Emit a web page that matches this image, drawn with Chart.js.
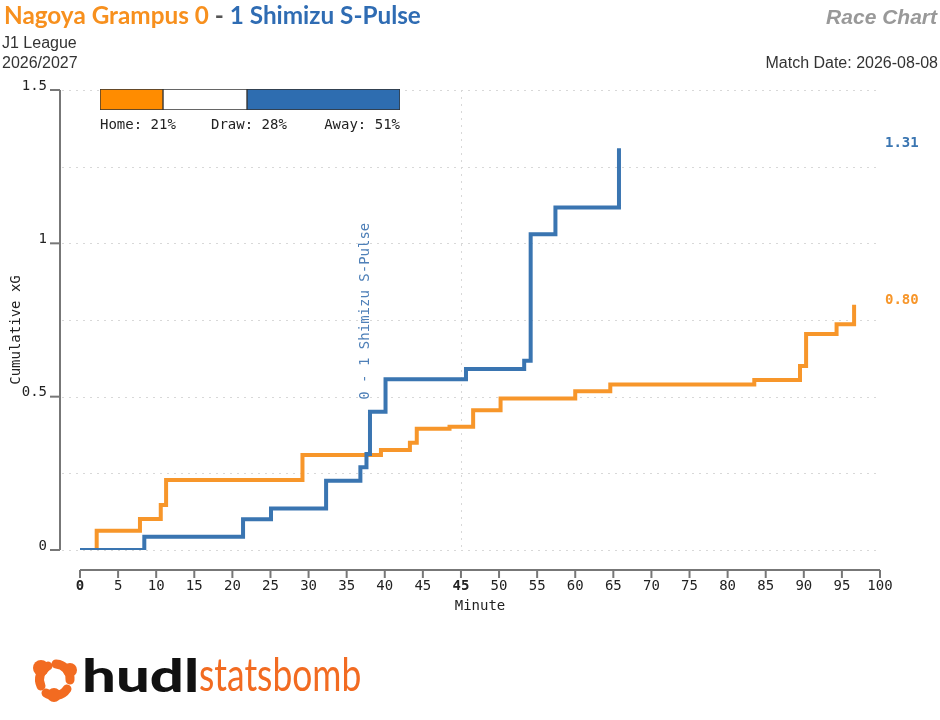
<!DOCTYPE html>
<html>
<head>
<meta charset="utf-8">
<script src="https://cdn.jsdelivr.net/npm/chart.js@4"></script>
<style>
  body { margin: 0; background: #fff; }
  #page { position: relative; width: 940px; height: 720px; overflow: hidden; }
  #race { position: absolute; left: 0; top: 0; }
  .txt { position: absolute; white-space: nowrap; }
  .title { left: 4px; top: 0px; font: bold 24.3px Lato, "Open Sans", sans-serif; color: #555; }
  .home { color: #F7901E; }
  .away { color: #2F6CB3; }
  .sub { font: 16px "Liberation Sans", Arial, sans-serif; color: #333; }
  .mono { font: 14px "DejaVu Sans Mono", monospace; color: #222; }
  #probWrap { position: absolute; left: 99px; top: 88px; width: 302px; height: 23px; }
</style>
</head>
<body>
<div id="page">
  <canvas id="race" width="940" height="720"></canvas>

  <div class="txt title"><span class="home">Nagoya Grampus 0</span> - <span class="away">1 Shimizu S-Pulse</span></div>
  <div class="txt sub" style="left:2px; top:34px;">J1 League</div>
  <div class="txt sub" style="left:2px; top:54px;">2026/2027</div>
  <div class="txt" style="right:3px; top:5px; font: italic bold 21px 'Liberation Sans', Arial, sans-serif; color:#999;">Race Chart</div>
  <div class="txt sub" style="right:2px; top:54px;">Match Date: 2026-08-08</div>

  <div id="probWrap"><canvas id="prob"></canvas></div>
  <div class="txt mono" id="probHome" style="left:100px; top:116px;"></div>
  <div class="txt mono" id="probDraw" style="left:211px; top:116px;"></div>
  <div class="txt mono" id="probAway" style="right:540px; top:116px;"></div>

  <svg class="txt" style="left:32px; top:656px;" width="46" height="46" viewBox="0 0 46 46">
    <g fill="none" stroke="#F26B21" stroke-width="9" stroke-linecap="round">
      <path d="M9 30 A15 15 0 0 1 16 10"/>
      <path d="M24 8 A15 15 0 0 1 38 24"/>
      <path d="M35 33 A15 15 0 0 1 14 37"/>
    </g>
    <g fill="#F26B21">
      <circle cx="9" cy="12" r="8"/>
      <circle cx="38" cy="14" r="7"/>
      <circle cx="22" cy="39" r="7"/>
    </g>
  </svg>
  <div class="txt" style="left:82px; top:647px; font: 900 46px Lato, sans-serif; color:#111; transform: scaleX(1.3); transform-origin: left top;">hudl</div>
  <div class="txt" style="left:199px; top:646px; font: 400 46px Lato, sans-serif; color:#F26B21; transform: scaleX(0.77); transform-origin: left top;">statsbomb</div>
</div>

<script>
// race chart data, x is elapsed position (first half 0-45, stoppage gap, second half from 50)
const homeMinutes = [0, 2.19, 7.87, 10.6, 11.3, 29.2, 39.5, 43.3, 44.2, 48.5, 51.6, 55.2, 65.0, 69.6, 88.5, 94.5, 95.3, 99.3, 101.6];
const homeXg      = [0, 0.063, 0.101, 0.147, 0.228, 0.31, 0.326, 0.35, 0.395, 0.402, 0.456, 0.494, 0.518, 0.54, 0.554, 0.60, 0.704, 0.736, 0.80];
const awayMinutes = [0, 8.44, 21.4, 25.07, 32.3, 36.8, 37.6, 38.06, 40.1, 50.66, 58.3, 59.15, 62.4, 70.74];
const awayXg      = [0, 0.043, 0.10, 0.135, 0.226, 0.27, 0.313, 0.451, 0.557, 0.59, 0.617, 1.03, 1.117, 1.31];

const xTickValues = [0, 5, 10, 15, 20, 25, 30, 35, 40, 45, 50, 55, 60, 65, 70, 75, 80, 85, 90, 95, 100, 105];
const xTickLabels = ['0', '5', '10', '15', '20', '25', '30', '35', '40', '45', '45', '50', '55', '60', '65', '70', '75', '80', '85', '90', '95', '100'];
const xTickBold = [0, 50];
const halfTimeMark = 50;

const yTickValues = [0, 0.5, 1, 1.5];
const yTickLabels = ['0', '0.5', '1', '1.5'];
const yGridValues = [0, 0.25, 0.5, 0.75, 1, 1.25, 1.5];

const goalMinutes = [38.06];
const goalLabels = ['0 - 1 Shimizu S-Pulse'];
const goalLabelY = [0.49];

const outcomeLabels = ['Home', 'Draw', 'Away'];
const outcomeProbs = [21, 28, 51];

const homeColor = '#F7962A';
const awayColor = '#3A75B1';
const monoFont = '14px "DejaVu Sans Mono", monospace';

function line(ctx, x1, y1, x2, y2) {
    ctx.beginPath();
    ctx.moveTo(x1, y1);
    ctx.lineTo(x2, y2);
    ctx.stroke();
}

const raceAxes = {
    id: 'raceAxes',
    beforeDatasetsDraw(chart) {
        const ctx = chart.ctx;
        const x = chart.scales.x, y = chart.scales.y;
        ctx.save();

        // dotted grid
        ctx.strokeStyle = '#d8d8d8';
        ctx.lineWidth = 1;
        ctx.setLineDash([2, 5]);
        yGridValues.forEach(v => {
            let py = Math.round(y.getPixelForValue(v)) + 0.5;
            line(ctx, x.left - 18, py, x.right, py);
        });
        let hx = Math.round(x.getPixelForValue(halfTimeMark)) + 0.5;
        line(ctx, hx, y.top, hx, y.bottom);
        ctx.setLineDash([]);

        // y axis, offset left of the plot
        ctx.strokeStyle = '#777';
        ctx.lineWidth = 2;
        ctx.fillStyle = '#222';
        ctx.font = monoFont;
        let ax = x.left - 20;
        line(ctx, ax, y.getPixelForValue(1.5), ax, y.getPixelForValue(0));
        ctx.textAlign = 'right';
        ctx.textBaseline = 'middle';
        yTickValues.forEach((v, i) => {
            let py = y.getPixelForValue(v);
            line(ctx, ax - 10, py, ax, py);
            ctx.fillText(yTickLabels[i], ax - 13, py - 4);
        });

        // x axis, offset below the plot
        let ay = y.bottom + 20;
        line(ctx, x.left, ay, x.right, ay);
        ctx.textAlign = 'center';
        xTickValues.forEach((v, i) => {
            let px = x.getPixelForValue(v);
            line(ctx, px, ay, px, ay + 8);
            ctx.font = (xTickBold.includes(v) ? 'bold ' : '') + monoFont;
            ctx.fillText(xTickLabels[i], px, ay + 16);
        });

        // axis titles
        ctx.font = monoFont;
        ctx.fillText('Minute', (x.left + x.right) / 2, ay + 36);
        ctx.save();
        ctx.translate(16, (y.top + y.bottom) / 2 + 10);
        ctx.rotate(-Math.PI / 2);
        ctx.fillText('Cumulative xG', 0, 0);
        ctx.restore();

        // goal annotations
        ctx.fillStyle = '#4F80B8';
        ctx.textAlign = 'left';
        ctx.textBaseline = 'alphabetic';
        goalMinutes.forEach((m, i) => {
            ctx.save();
            ctx.translate(x.getPixelForValue(m) - 1, y.getPixelForValue(goalLabelY[i]));
            ctx.rotate(-Math.PI / 2);
            ctx.fillText(goalLabels[i], 0, 0);
            ctx.restore();
        });
        ctx.restore();
    },
    afterDatasetsDraw(chart) {
        const ctx = chart.ctx;
        const y = chart.scales.y;
        ctx.save();
        ctx.font = 'bold ' + monoFont;
        ctx.textAlign = 'left';
        ctx.textBaseline = 'middle';
        ctx.fillStyle = awayColor;
        let aLast = awayXg[awayXg.length - 1];
        ctx.fillText(aLast.toFixed(2), 885, y.getPixelForValue(aLast) - 5);
        ctx.fillStyle = homeColor;
        let hLast = homeXg[homeXg.length - 1];
        ctx.fillText(hLast.toFixed(2), 885, y.getPixelForValue(hLast) - 4);
        ctx.restore();
    }
};

let homePoints = homeMinutes.map((m, i) => ({ x: m, y: homeXg[i] }));
let awayPoints = awayMinutes.map((m, i) => ({ x: m, y: awayXg[i] }));

new Chart(document.getElementById('race'), {
    type: 'line',
    data: {
        datasets: [
            {
                label: 'Nagoya Grampus',
                data: homePoints,
                borderColor: homeColor,
                borderWidth: 4,
                stepped: 'before',
                pointRadius: 0,
                fill: false,
                order: 1
            },
            {
                label: 'Shimizu S-Pulse',
                data: awayPoints,
                borderColor: awayColor,
                borderWidth: 4,
                stepped: 'before',
                pointRadius: 0,
                fill: false,
                order: 0
            }
        ]
    },
    options: {
        responsive: false,
        animation: false,
        layout: { padding: { left: 80, right: 60, top: 90, bottom: 170 } },
        plugins: { legend: { display: false }, tooltip: { enabled: false } },
        scales: {
            x: { type: 'linear', min: 0, max: 105, display: false },
            y: { type: 'linear', min: 0, max: 1.5, display: false }
        }
    },
    plugins: [raceAxes]
});

// outcome probability bar
const probColors = ['#FF8C00', '#FFFFFF', '#2E6DB0'];
new Chart(document.getElementById('prob'), {
    type: 'bar',
    data: {
        labels: [''],
        datasets: outcomeLabels.map((l, i) => ({
            label: l,
            data: [outcomeProbs[i]],
            backgroundColor: probColors[i],
            borderColor: '#333',
            borderWidth: 1,
            borderSkipped: false,
            barPercentage: 1,
            categoryPercentage: 1
        }))
    },
    options: {
        indexAxis: 'y',
        responsive: true,
        maintainAspectRatio: false,
        animation: false,
        layout: { padding: 1 },
        plugins: { legend: { display: false }, tooltip: { enabled: false } },
        scales: {
            x: { stacked: true, min: 0, max: 100, display: false },
            y: { stacked: true, display: false }
        }
    }
});
document.getElementById('probHome').textContent = outcomeLabels[0] + ': ' + outcomeProbs[0] + '%';
document.getElementById('probDraw').textContent = outcomeLabels[1] + ': ' + outcomeProbs[1] + '%';
document.getElementById('probAway').textContent = outcomeLabels[2] + ': ' + outcomeProbs[2] + '%';
</script>
</body>
</html>
